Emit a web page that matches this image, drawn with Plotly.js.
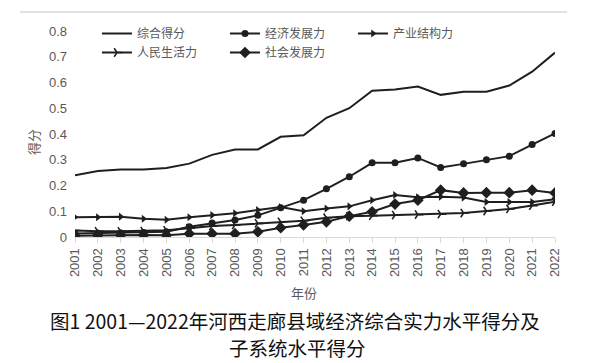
<!DOCTYPE html>
<html>
<head>
<meta charset="utf-8">
<script src="https://cdn.plot.ly/plotly-3.0.1.min.js"></script>
<style>
html,body{margin:0;padding:0;background:#fff;}
#chart{width:595px;height:363px;}
</style>
</head>
<body>
<div id="chart"></div>
<script>
// ---- data ----
var years = [2001,2002,2003,2004,2005,2006,2007,2008,2009,2010,2011,2012,2013,2014,2015,2016,2017,2018,2019,2020,2021,2022];
var yearLabels = ["2001","2002","2003","2004","2005","2006","2007","2008","2009","2010","2011","2012","2013","2014","2015","2016","2017","2018","2019","2020","2021","2022"];
var seriesNames = ["综合得分","经济发展力","产业结构力","人民生活力","社会发展力"];
var zonghe = [0.240,0.256,0.262,0.262,0.268,0.285,0.319,0.340,0.340,0.389,0.395,0.463,0.500,0.568,0.573,0.584,0.552,0.564,0.564,0.588,0.642,0.716];
var jingji = [0.014,0.015,0.016,0.017,0.020,0.040,0.054,0.066,0.084,0.114,0.143,0.187,0.234,0.288,0.288,0.307,0.270,0.284,0.300,0.314,0.359,0.402];
var chanye = [0.077,0.077,0.079,0.071,0.067,0.077,0.085,0.092,0.105,0.116,0.100,0.111,0.119,0.143,0.163,0.154,0.156,0.153,0.136,0.136,0.136,0.147];
var renmin = [0.025,0.022,0.022,0.023,0.026,0.034,0.043,0.047,0.053,0.059,0.063,0.075,0.081,0.083,0.085,0.087,0.089,0.093,0.101,0.109,0.122,0.137];
var shehui = [0.005,0.007,0.007,0.008,0.007,0.013,0.013,0.013,0.020,0.036,0.047,0.059,0.081,0.098,0.128,0.143,0.182,0.171,0.172,0.172,0.182,0.171];
var yTicks = [0,0.1,0.2,0.3,0.4,0.5,0.6,0.7,0.8];
var yTickText = ["0","0.1","0.2","0.3","0.4","0.5","0.6","0.7","0.8"];
var yTitle = "得分";
var xTitle = "年份";
var caption1 = "图1 2001—2022年河西走廊县域经济综合实力水平得分及";
var caption2 = "子系统水平得分";

var lineColor = "#1f1f1f";
var labelColor = "#595959";
var fontLat = "'Liberation Sans', Arial, 'Noto Sans CJK SC', sans-serif";
var fontCJK = "'Noto Sans CJK SC', 'Liberation Sans', sans-serif";

function tr(name, y, marker){
  var t = {
    x: years, y: y, name: name, type: "scatter",
    mode: marker ? "lines+markers" : "lines",
    line: {color: lineColor, width: 2},
    hoverinfo: "skip"
  };
  if (marker) t.marker = marker;
  return t;
}
var data = [
  tr(seriesNames[0], zonghe, null),
  tr(seriesNames[1], jingji, {symbol: "circle", size: 7, color: lineColor}),
  tr(seriesNames[2], chanye, {symbol: "triangle-right", size: 7, color: lineColor}),
  tr(seriesNames[3], renmin, {symbol: "y-right", size: 7, color: lineColor, line: {color: lineColor, width: 1.6}}),
  tr(seriesNames[4], shehui, {symbol: "diamond", size: 9, color: lineColor})
];

var L = 75, R = 40, T = 31, B = 126;
var W = 595, H = 363;
var pw = W - L - R, ph = H - T - B;
function px(x){ return (x - L) / pw; }
function py(y){ return (H - B - y) / ph; }
function ann(text, x, y, size, color, angle){
  return {text: text, xref: "paper", yref: "paper", x: px(x), y: py(y),
          xanchor: "center", yanchor: "middle", textangle: angle || 0,
          showarrow: false, font: {family: fontCJK, size: size, color: color}};
}

var layout = {
  width: W, height: H,
  margin: {l: L, r: R, t: T, b: B, pad: 0},
  paper_bgcolor: "#ffffff", plot_bgcolor: "#ffffff",
  showlegend: true,
  legend: {
    orientation: "h", x: px(97), xanchor: "left", y: py(19), yanchor: "top",
    font: {family: fontCJK, size: 12, color: labelColor},
    entrywidth: 83, entrywidthmode: "pixels",
    bgcolor: "rgba(0,0,0,0)", borderwidth: 0,
    tracegroupgap: 0, itemclick: false, itemdoubleclick: false
  },
  xaxis: {
    range: [2001, 2022], tickvals: years, ticktext: yearLabels,
    tickangle: -90, showgrid: false, zeroline: false,
    showline: true, linecolor: "#d9d9d9", linewidth: 1,
    ticks: "outside", ticklen: 5, tickcolor: "#d9d9d9",
    tickfont: {family: fontLat, size: 13, color: labelColor},
    fixedrange: true
  },
  yaxis: {
    range: [0, 0.8], tickvals: yTicks, ticktext: yTickText,
    showgrid: false, zeroline: false, showline: false, ticks: "",
    tickfont: {family: fontLat, size: 13, color: labelColor},
    ticklabelstandoff: 7,
    fixedrange: true
  },
  shapes: [
    {type: "line", xref: "paper", yref: "paper", x0: px(20), x1: px(567), y0: py(12), y1: py(12),
     line: {color: "#d9d9d9", width: 1.5}}
  ],
  annotations: [
    ann(yTitle, 33, 142, 13, labelColor, -90),
    ann(xTitle, 304, 292, 13, labelColor, 0),
    ann(caption1, 295, 320, 19.5, "#111111", 0),
    ann(caption2, 297, 347, 19.5, "#111111", 0)
  ],
  hovermode: false
};

Plotly.newPlot("chart", data, layout, {displayModeBar: false, staticPlot: true});
</script>
</body>
</html>
